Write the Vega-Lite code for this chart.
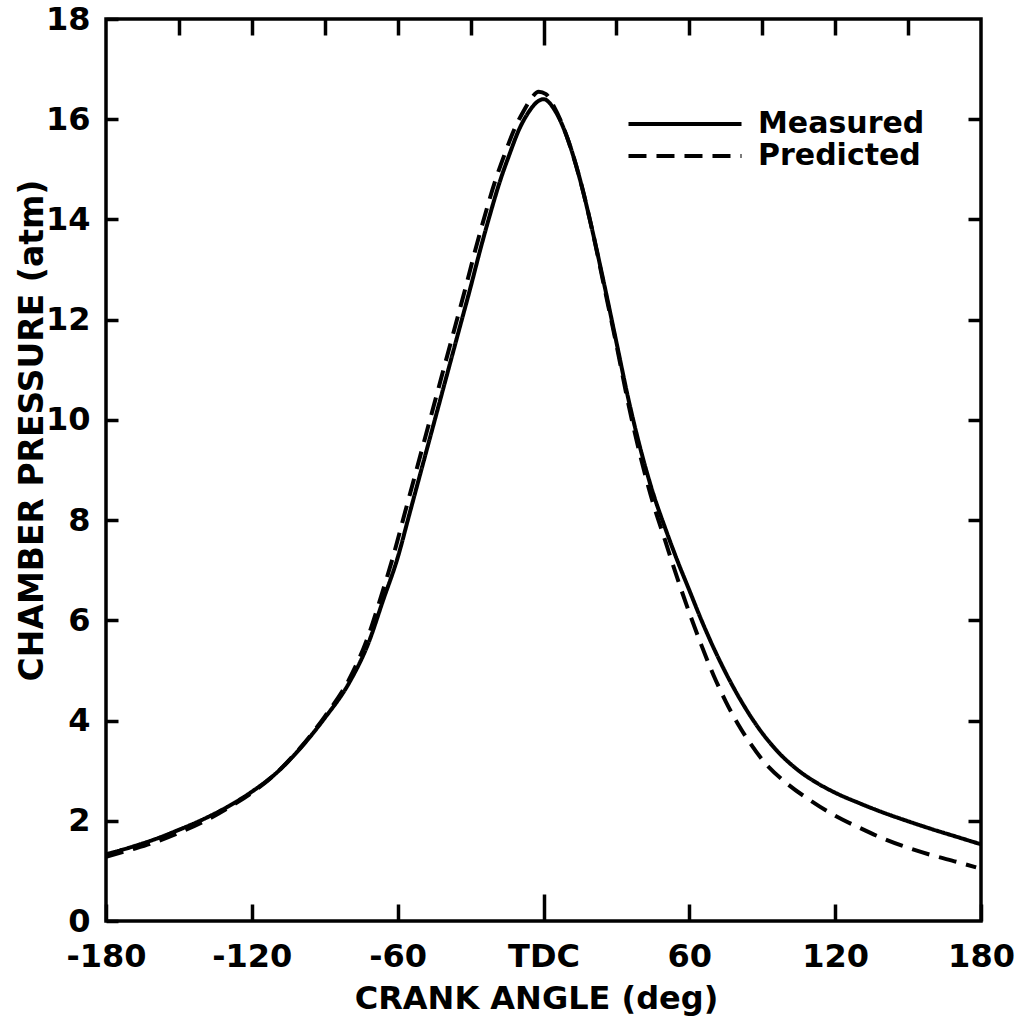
{
  "$schema": "https://vega.github.io/schema/vega-lite/v6.json",
  "width": 875,
  "height": 902,
  "autosize": {"type": "none"},
  "padding": {"left": 106, "top": 19, "right": 48, "bottom": 97},
  "background": "white",
  "config": {"view": {"stroke": "black", "strokeWidth": 3.5}, "font": "DejaVu Sans"},
  "data": {"values": [
    {"angle": -180, "pressure": 1.33, "series": "Measured"},
    {"angle": -170, "pressure": 1.47, "series": "Measured"},
    {"angle": -160, "pressure": 1.63, "series": "Measured"},
    {"angle": -150, "pressure": 1.82, "series": "Measured"},
    {"angle": -140, "pressure": 2.03, "series": "Measured"},
    {"angle": -130, "pressure": 2.28, "series": "Measured"},
    {"angle": -120, "pressure": 2.58, "series": "Measured"},
    {"angle": -110, "pressure": 2.95, "series": "Measured"},
    {"angle": -100, "pressure": 3.45, "series": "Measured"},
    {"angle": -90, "pressure": 4.05, "series": "Measured"},
    {"angle": -80, "pressure": 4.75, "series": "Measured"},
    {"angle": -72, "pressure": 5.55, "series": "Measured"},
    {"angle": -66, "pressure": 6.4, "series": "Measured"},
    {"angle": -60, "pressure": 7.25, "series": "Measured"},
    {"angle": -55, "pressure": 8.15, "series": "Measured"},
    {"angle": -50, "pressure": 9.05, "series": "Measured"},
    {"angle": -45, "pressure": 9.95, "series": "Measured"},
    {"angle": -40, "pressure": 10.85, "series": "Measured"},
    {"angle": -35, "pressure": 11.75, "series": "Measured"},
    {"angle": -30, "pressure": 12.65, "series": "Measured"},
    {"angle": -26, "pressure": 13.4, "series": "Measured"},
    {"angle": -22, "pressure": 14.1, "series": "Measured"},
    {"angle": -18, "pressure": 14.75, "series": "Measured"},
    {"angle": -14, "pressure": 15.3, "series": "Measured"},
    {"angle": -10, "pressure": 15.8, "series": "Measured"},
    {"angle": -6, "pressure": 16.15, "series": "Measured"},
    {"angle": -3, "pressure": 16.33, "series": "Measured"},
    {"angle": 0, "pressure": 16.4, "series": "Measured"},
    {"angle": 5, "pressure": 16.15, "series": "Measured"},
    {"angle": 10, "pressure": 15.6, "series": "Measured"},
    {"angle": 15, "pressure": 14.8, "series": "Measured"},
    {"angle": 20, "pressure": 13.8, "series": "Measured"},
    {"angle": 25, "pressure": 12.7, "series": "Measured"},
    {"angle": 30, "pressure": 11.55, "series": "Measured"},
    {"angle": 35, "pressure": 10.4, "series": "Measured"},
    {"angle": 40, "pressure": 9.4, "series": "Measured"},
    {"angle": 45, "pressure": 8.55, "series": "Measured"},
    {"angle": 50, "pressure": 7.85, "series": "Measured"},
    {"angle": 55, "pressure": 7.2, "series": "Measured"},
    {"angle": 60, "pressure": 6.6, "series": "Measured"},
    {"angle": 65, "pressure": 6.0, "series": "Measured"},
    {"angle": 70, "pressure": 5.45, "series": "Measured"},
    {"angle": 75, "pressure": 4.95, "series": "Measured"},
    {"angle": 80, "pressure": 4.5, "series": "Measured"},
    {"angle": 85, "pressure": 4.1, "series": "Measured"},
    {"angle": 90, "pressure": 3.75, "series": "Measured"},
    {"angle": 96, "pressure": 3.4, "series": "Measured"},
    {"angle": 105, "pressure": 3.0, "series": "Measured"},
    {"angle": 112, "pressure": 2.77, "series": "Measured"},
    {"angle": 120, "pressure": 2.56, "series": "Measured"},
    {"angle": 130, "pressure": 2.35, "series": "Measured"},
    {"angle": 140, "pressure": 2.16, "series": "Measured"},
    {"angle": 150, "pressure": 1.99, "series": "Measured"},
    {"angle": 160, "pressure": 1.83, "series": "Measured"},
    {"angle": 170, "pressure": 1.68, "series": "Measured"},
    {"angle": 180, "pressure": 1.53, "series": "Measured"},
    {"angle": -180, "pressure": 1.28, "series": "Predicted"},
    {"angle": -170, "pressure": 1.42, "series": "Predicted"},
    {"angle": -160, "pressure": 1.57, "series": "Predicted"},
    {"angle": -150, "pressure": 1.76, "series": "Predicted"},
    {"angle": -140, "pressure": 1.98, "series": "Predicted"},
    {"angle": -130, "pressure": 2.25, "series": "Predicted"},
    {"angle": -120, "pressure": 2.56, "series": "Predicted"},
    {"angle": -110, "pressure": 2.95, "series": "Predicted"},
    {"angle": -100, "pressure": 3.46, "series": "Predicted"},
    {"angle": -90, "pressure": 4.08, "series": "Predicted"},
    {"angle": -80, "pressure": 4.82, "series": "Predicted"},
    {"angle": -72, "pressure": 5.7, "series": "Predicted"},
    {"angle": -67, "pressure": 6.45, "series": "Predicted"},
    {"angle": -62, "pressure": 7.25, "series": "Predicted"},
    {"angle": -57, "pressure": 8.15, "series": "Predicted"},
    {"angle": -52, "pressure": 9.05, "series": "Predicted"},
    {"angle": -47, "pressure": 9.95, "series": "Predicted"},
    {"angle": -42, "pressure": 10.85, "series": "Predicted"},
    {"angle": -37, "pressure": 11.75, "series": "Predicted"},
    {"angle": -32, "pressure": 12.65, "series": "Predicted"},
    {"angle": -28, "pressure": 13.4, "series": "Predicted"},
    {"angle": -24, "pressure": 14.1, "series": "Predicted"},
    {"angle": -20, "pressure": 14.75, "series": "Predicted"},
    {"angle": -16, "pressure": 15.3, "series": "Predicted"},
    {"angle": -12, "pressure": 15.8, "series": "Predicted"},
    {"angle": -8, "pressure": 16.18, "series": "Predicted"},
    {"angle": -5, "pressure": 16.42, "series": "Predicted"},
    {"angle": -2, "pressure": 16.55, "series": "Predicted"},
    {"angle": 1, "pressure": 16.5, "series": "Predicted"},
    {"angle": 4, "pressure": 16.28, "series": "Predicted"},
    {"angle": 10, "pressure": 15.6, "series": "Predicted"},
    {"angle": 15, "pressure": 14.8, "series": "Predicted"},
    {"angle": 20, "pressure": 13.8, "series": "Predicted"},
    {"angle": 25, "pressure": 12.65, "series": "Predicted"},
    {"angle": 30, "pressure": 11.5, "series": "Predicted"},
    {"angle": 35, "pressure": 10.3, "series": "Predicted"},
    {"angle": 40, "pressure": 9.25, "series": "Predicted"},
    {"angle": 45, "pressure": 8.35, "series": "Predicted"},
    {"angle": 50, "pressure": 7.6, "series": "Predicted"},
    {"angle": 55, "pressure": 6.85, "series": "Predicted"},
    {"angle": 60, "pressure": 6.15, "series": "Predicted"},
    {"angle": 65, "pressure": 5.5, "series": "Predicted"},
    {"angle": 70, "pressure": 4.9, "series": "Predicted"},
    {"angle": 75, "pressure": 4.38, "series": "Predicted"},
    {"angle": 80, "pressure": 3.93, "series": "Predicted"},
    {"angle": 85, "pressure": 3.55, "series": "Predicted"},
    {"angle": 90, "pressure": 3.22, "series": "Predicted"},
    {"angle": 100, "pressure": 2.75, "series": "Predicted"},
    {"angle": 110, "pressure": 2.4, "series": "Predicted"},
    {"angle": 120, "pressure": 2.1, "series": "Predicted"},
    {"angle": 130, "pressure": 1.86, "series": "Predicted"},
    {"angle": 140, "pressure": 1.64, "series": "Predicted"},
    {"angle": 150, "pressure": 1.46, "series": "Predicted"},
    {"angle": 160, "pressure": 1.31, "series": "Predicted"},
    {"angle": 170, "pressure": 1.18, "series": "Predicted"},
    {"angle": 178, "pressure": 1.07, "series": "Predicted"}
  ]},
  "layer": [
    {
      "mark": {"type": "line", "strokeWidth": 4, "color": "black", "interpolate": "monotone"},
      "encoding": {
        "x": {"field": "angle", "type": "quantitative",
          "scale": {"domain": [-180, 180], "nice": false},
          "axis": {"orient": "bottom", "values": [-180, -120, -60, 0, 60, 120, 180],
            "title": "CRANK ANGLE (deg)", "domain": false, "grid": false,
            "tickColor": "black", "tickWidth": 3.5,
            "tickSize": {"condition": {"test": "datum.value === 0", "value": -27}, "value": -17},
            "labelPadding": {"condition": {"test": "datum.value === 0", "value": 47}, "value": 37},
            "labelExpr": "datum.value === 0 ? 'TDC' : '' + datum.value",
            "labelFont": "DejaVu Sans", "labelFontSize": 32, "labelFontWeight": "bold", "labelColor": "black",
            "labelFlush": false, "labelOverlap": false, "labelBound": false,
            "titleFont": "DejaVu Sans", "titleFontSize": 32, "titleFontWeight": "bold", "titleColor": "black",
            "titleBaseline": "alphabetic", "titleY": 87, "titleX": 430}},
        "y": {"field": "pressure", "type": "quantitative",
          "scale": {"domain": [0, 18], "nice": false},
          "axis": {"orient": "left", "values": [0, 2, 4, 6, 8, 10, 12, 14, 16, 18],
            "title": "CHAMBER PRESSURE (atm)", "domain": false, "grid": false,
            "tickColor": "black", "tickWidth": 3.5, "tickSize": -12, "labelPadding": 28,
            "labelFont": "DejaVu Sans", "labelFontSize": 32, "labelFontWeight": "bold", "labelColor": "black",
            "labelFlush": false, "labelOverlap": false, "labelBound": false,
            "titleFont": "DejaVu Sans", "titleFontSize": 33, "titleFontWeight": "bold", "titleColor": "black",
            "titleAngle": -90, "titleBaseline": "alphabetic", "titleAlign": "center", "titleX": -64, "titleY": 411}},
        "strokeDash": {"field": "series", "type": "nominal",
          "scale": {"domain": ["Measured", "Predicted"], "range": [[1, 0], [18, 10]]},
          "legend": {"orient": "none", "legendX": 564, "legendY": 90, "title": null,
            "symbolType": "M-5,0H5", "symbolSize": 511, "symbolStrokeWidth": 4, "symbolStrokeColor": "black",
            "labelFont": "DejaVu Sans", "labelFontSize": 30, "labelFontWeight": "bold", "labelColor": "black", "labelOffset": 58,
            "labelLimit": 400, "rowPadding": 2, "padding": 0, "labelBaseline": "middle"}}
      }
    },
    {
      "mark": {"type": "line", "opacity": 0},
      "encoding": {
        "x": {"field": "angle", "type": "quantitative",
          "axis": {"orient": "top", "values": [-150, -120, -90, -60, -30, 0, 30, 60, 90, 120, 150],
            "labels": false, "title": null, "domain": false, "grid": false,
            "tickColor": "black", "tickWidth": 3.5,
            "tickSize": {"condition": {"test": "datum.value === 0", "value": -26}, "value": -16}}},
        "y": {"field": "pressure", "type": "quantitative",
          "axis": {"orient": "right", "values": [2, 4, 6, 8, 10, 12, 14, 16],
            "labels": false, "title": null, "domain": false, "grid": false,
            "tickColor": "black", "tickWidth": 3.5, "tickSize": -13}},
        "detail": {"field": "series"}
      }
    }
  ],
  "resolve": {"axis": {"x": "independent", "y": "independent"}}
}
